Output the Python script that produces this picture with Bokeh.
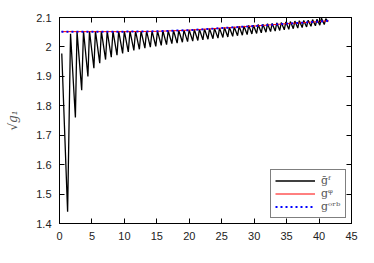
from bokeh.plotting import figure
from bokeh.models import (Range1d, FixedTicker, LinearAxis, CustomJSTickFormatter,
                          Legend, LegendItem)
from bokeh.embed import file_html
from bokeh.resources import INLINE

x_ticks = [0, 5, 10, 15, 20, 25, 30, 35, 40, 45]
y_ticks = [1.4, 1.5, 1.6, 1.7, 1.8, 1.9, 2.0, 2.1]

# \bar g^F : oscillating curve (peak / trough points)
gF_x = [0.35, 1.25, 1.7, 2.45, 2.7, 3.42, 3.7, 4.38, 4.62, 5.3, 5.54, 6.2, 6.45, 7.1,
        7.35, 7.98, 8.24, 8.86, 9.12, 9.73, 9.99, 10.6, 10.86, 11.46, 11.72, 12.31,
        12.57, 13.16, 13.42, 14.0, 14.26, 14.84, 15.10, 15.68, 15.93, 16.5, 16.75,
        17.32, 17.57, 18.13, 18.38, 18.94, 19.18, 19.74, 19.98, 20.53, 20.77, 21.32,
        21.56, 22.1, 22.34, 22.88, 23.12, 23.65, 23.89, 24.42, 24.66, 25.18, 25.42,
        25.94, 26.18, 26.69, 26.93, 27.44, 27.68, 28.18, 28.42, 28.92, 29.16, 29.65,
        29.89, 30.38, 30.62, 31.1, 31.34, 31.82, 32.06, 32.53, 32.77, 33.24, 33.48,
        33.94, 34.18, 34.64, 34.88, 35.34, 35.58, 36.03, 36.27, 36.72, 36.96, 37.4,
        37.64, 38.08, 38.32, 38.76, 39.0, 39.44, 39.68, 40.12, 40.36, 40.8, 41.04, 41.35]
gF_y = [1.978, 1.44, 2.045, 1.76, 2.053, 1.853, 2.054, 1.90, 2.054, 1.928, 2.054, 1.945,
        2.054, 1.957, 2.054, 1.965, 2.054, 1.972, 2.054, 1.978, 2.054, 1.983, 2.054,
        1.988, 2.054, 1.992, 2.054, 1.996, 2.054, 1.999, 2.054, 2.002, 2.054, 2.005,
        2.055, 2.008, 2.055, 2.011, 2.056, 2.013, 2.056, 2.016, 2.057, 2.018, 2.058,
        2.02, 2.059, 2.022, 2.060, 2.024, 2.061, 2.026, 2.062, 2.028, 2.063, 2.03,
        2.064, 2.032, 2.066, 2.034, 2.067, 2.036, 2.068, 2.038, 2.07, 2.04, 2.071,
        2.042, 2.073, 2.044, 2.074, 2.046, 2.076, 2.048, 2.077, 2.05, 2.079, 2.052,
        2.08, 2.054, 2.082, 2.056, 2.083, 2.058, 2.085, 2.06, 2.086, 2.062, 2.088,
        2.064, 2.089, 2.066, 2.09, 2.068, 2.091, 2.07, 2.093, 2.072, 2.094, 2.074,
        2.098, 2.076, 2.096, 2.085]

# g^phi (red) and g^orb (blue dotted)
gphi_x = [0.3, 5, 10, 15, 20, 25, 30, 35, 40, 41.5]
gphi_y = [2.052, 2.052, 2.052, 2.053, 2.057, 2.064, 2.071, 2.079, 2.086, 2.089]
gorb_x = [0.3, 5, 10, 15, 20, 25, 30, 35, 40, 41.5]
gorb_y = [2.052, 2.052, 2.052, 2.053, 2.057, 2.064, 2.071, 2.079, 2.086, 2.089]

legend_labels = ["ḡᶠ", "gᵠ", "gᵒʳᵇ"]

p = figure(width=374, height=263, output_backend="svg", toolbar_location=None,
           x_range=Range1d(0, 45), y_range=Range1d(1.4, 2.1),
           min_border_left=59, min_border_right=23, min_border_top=17,
           min_border_bottom=40, background_fill_color="white",
           border_fill_color="white")

p.xgrid.visible = False
p.ygrid.visible = False
p.outline_line_color = "black"
p.outline_line_width = 1

fmt_y = CustomJSTickFormatter(code="return (Math.round(tick*10)/10).toString();")
fmt_blank = CustomJSTickFormatter(code="return '';")

def style_axis(ax):
    ax.axis_line_color = "black"
    ax.major_tick_in = 5
    ax.major_tick_out = 0
    ax.minor_tick_in = 0
    ax.minor_tick_out = 0
    ax.major_tick_line_color = "black"
    ax.major_label_text_font = "Liberation Sans"
    ax.major_label_text_font_size = "11px"
    ax.major_label_text_color = "#222222"

xa = p.xaxis[0]
xa.ticker = FixedTicker(ticks=x_ticks)
style_axis(xa)
xa.major_label_standoff = 8

ya = p.yaxis[0]
ya.ticker = FixedTicker(ticks=y_ticks)
ya.formatter = fmt_y
style_axis(ya)
ya.major_label_standoff = 8
ya.axis_label = "√g₁"
ya.axis_label_text_font = "DejaVu Serif"
ya.axis_label_text_font_style = "italic"
ya.axis_label_text_font_size = "12px"
ya.axis_label_text_color = "#555555"
ya.axis_label_standoff = 13

top = LinearAxis(ticker=FixedTicker(ticks=x_ticks), formatter=fmt_blank)
style_axis(top)
top.major_label_standoff = 0
p.add_layout(top, "above")
right = LinearAxis(ticker=FixedTicker(ticks=y_ticks), formatter=fmt_blank)
style_axis(right)
right.major_label_standoff = 0
p.add_layout(right, "right")

r1 = p.line(gF_x, gF_y, line_color="black", line_width=1.3)
r2 = p.line(gphi_x, gphi_y, line_color="red", line_width=1)
r3 = p.line(gorb_x, gorb_y, line_color="blue", line_width=2, line_dash="2 3")

legend = Legend(items=[LegendItem(label=legend_labels[0], renderers=[r1]),
                       LegendItem(label=legend_labels[1], renderers=[r2]),
                       LegendItem(label=legend_labels[2], renderers=[r3])],
                location="bottom_right", margin=5, padding=4, spacing=0,
                glyph_width=40, glyph_height=13, label_height=13,
                label_text_font="DejaVu Serif", label_text_font_size="11px",
                label_text_color="#555555", label_standoff=6,
                border_line_color="black", border_line_width=1,
                background_fill_alpha=1.0)
p.add_layout(legend)

open("out.html", "w").write(file_html(p, INLINE))
